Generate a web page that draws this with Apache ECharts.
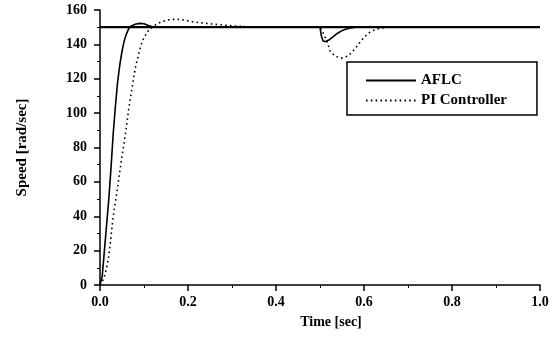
<!DOCTYPE html>
<html>
<head>
<meta charset="utf-8">
<script src="https://cdn.jsdelivr.net/npm/echarts@6/dist/echarts.min.js"></script>
<style>html,body{margin:0;padding:0;background:#fff;}#c{width:560px;height:340px;}</style>
</head>
<body>
<div id="c"></div>
<script>
const timeAFLC = [0,0.005,0.01,0.015,0.02,0.025,0.03,0.035,0.04,0.045,0.05,0.055,0.06,0.065,0.07,0.08,0.09,0.1,0.11,0.12,0.13,0.15,0.2,0.3,0.4,0.5,0.503,0.507,0.512,0.52,0.53,0.54,0.55,0.56,0.57,0.58,0.6,0.7,0.8,0.9,1.0];
const speedAFLC = [0,5,20,35,50,68,88,104,118,128,136,142,146,149,150.5,151.7,152.2,152,151,150.3,150,150,150,150,150,150,145,142,141.6,142.5,144.5,146.5,148,149,149.6,150,150,150,150,150,150];
const timePI = [0,0.005,0.01,0.015,0.02,0.025,0.03,0.035,0.04,0.045,0.05,0.055,0.06,0.065,0.07,0.075,0.08,0.085,0.09,0.095,0.1,0.11,0.12,0.13,0.14,0.15,0.16,0.175,0.19,0.21,0.23,0.26,0.3,0.33,0.36,0.4,0.5,0.505,0.51,0.515,0.523,0.535,0.55,0.565,0.58,0.59,0.6,0.61,0.62,0.635,0.65,0.7,0.8,0.9,1.0];
const speedPI = [0,1.5,5,10,17,28,40,48,57,66,75,83,92,102,110,118,126,131.5,136.5,141,144,148,150.3,152,153.2,154,154.5,154.6,154.2,153.2,152.5,151.7,150.8,150.3,150,150,150,148,145,142.5,136,133,132,133.5,137.5,141,144,146.5,148,149.3,150,150,150,150,150];
const refTime = [0,1.0];
const refSpeed = [150,150];
const seriesNames = ['AFLC','PI Controller'];
const xTicks = [0,0.2,0.4,0.6,0.8,1.0];
const yTicks = [0,20,40,60,80,100,120,140,160];

const zip = (a,b) => a.map((v,i)=>[v,b[i]]);
const FONT = 'Liberation Serif';
const chart = echarts.init(document.getElementById('c'), null, {renderer:'canvas'});
chart.setOption({
  animation:false,
  backgroundColor:'#fff',
  grid:{left:100,right:20,top:10,bottom:55,containLabel:false},
  legend:{
    data:seriesNames,
    orient:'vertical', left:347, top:62,
    itemWidth:50, itemHeight:14, itemGap:5,
    padding:[11,30,7,18],
    borderColor:'#000', borderWidth:1.5, backgroundColor:'#fff',
    itemStyle:{opacity:0},
    textStyle:{fontFamily:FONT, fontSize:15, fontWeight:'bold', color:'#000'}
  },
  xAxis:{
    type:'value', min:xTicks[0], max:xTicks[xTicks.length-1], interval:0.2,
    name:'Time [sec]', nameLocation:'middle', nameGap:30,
    nameTextStyle:{fontFamily:FONT, fontSize:14, fontWeight:'bold', color:'#000', padding:[0,0,0,22]},
    axisLine:{lineStyle:{color:'#000', width:1.5}},
    axisTick:{length:6, lineStyle:{color:'#000', width:1.5}},
    minorTick:{show:true, splitNumber:2, length:3, lineStyle:{color:'#000', width:1}},
    axisLabel:{fontFamily:FONT, fontSize:14, fontWeight:'bold', color:'#000', margin:10, formatter:v=>v.toFixed(1)},
    splitLine:{show:false}
  },
  yAxis:{
    type:'value', min:yTicks[0], max:yTicks[yTicks.length-1], interval:20,
    name:'Speed [rad/sec]', nameLocation:'middle', nameGap:70,
    nameTextStyle:{fontFamily:FONT, fontSize:15, fontWeight:'bold', color:'#000'},
    axisLine:{show:true, lineStyle:{color:'#000', width:1.5}},
    axisTick:{show:true, length:6, lineStyle:{color:'#000', width:1.5}},
    minorTick:{show:true, splitNumber:2, length:3, lineStyle:{color:'#000', width:1}},
    axisLabel:{fontFamily:FONT, fontSize:14, fontWeight:'bold', color:'#000', margin:13},
    splitLine:{show:false}
  },
  series:[
    {name:'ref', type:'line', data:zip(refTime,refSpeed), symbol:'none', silent:true,
     lineStyle:{color:'#000', width:2.2}, z:1},
    {name:seriesNames[0], type:'line', data:zip(timeAFLC,speedAFLC), symbol:'none',
     lineStyle:{color:'#000', width:1.6}, itemStyle:{color:'#000'}, z:3},
    {name:seriesNames[1], type:'line', data:zip(timePI,speedPI), symbol:'none',
     lineStyle:{color:'#000', width:1.6, type:[1.6,3.2]}, itemStyle:{color:'#000'}, z:4}
  ]
});
</script>
</body>
</html>
